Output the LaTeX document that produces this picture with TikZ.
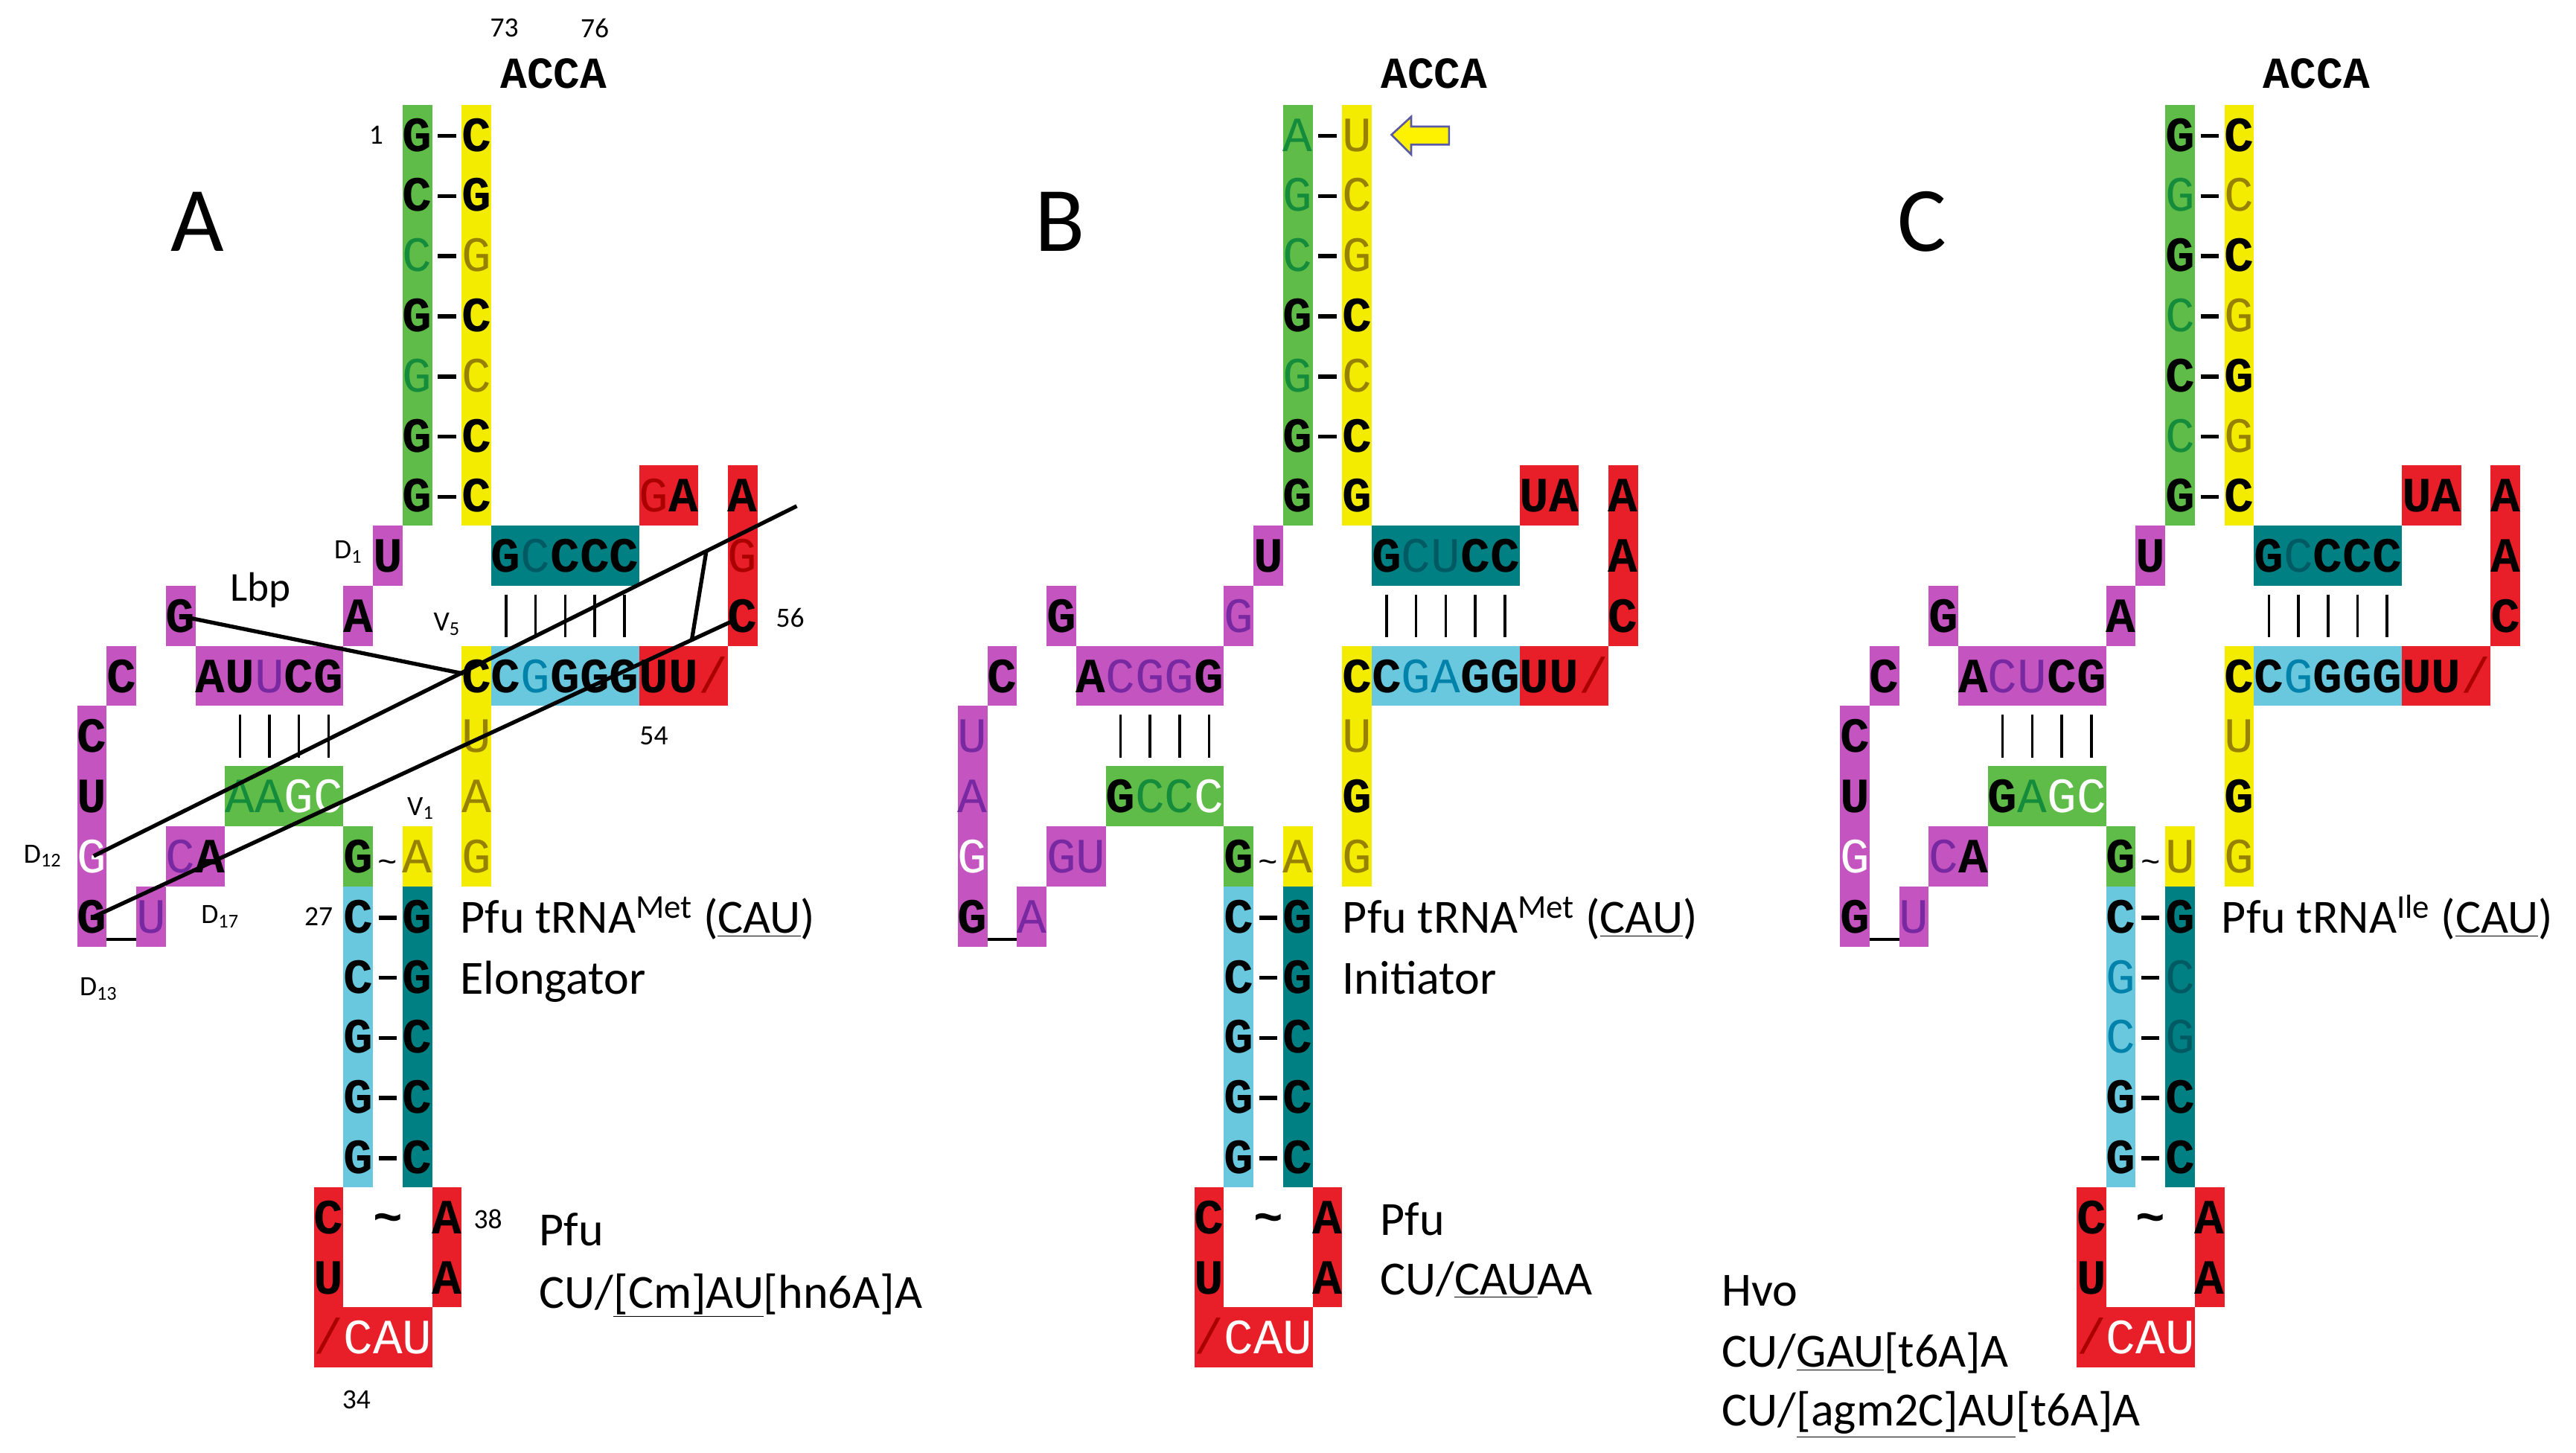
\documentclass[tikz,border=0pt]{standalone}
\usepackage{fontspec}
\setmainfont{Carlito}
\newfontfamily\mono{Liberation Mono}
\definecolor{cgreen}{RGB}{96,188,72}
\definecolor{cyell}{RGB}{243,236,0}
\definecolor{cmag}{RGB}{196,84,192}
\definecolor{cteal}{RGB}{0,128,130}
\definecolor{ccyan}{RGB}{106,200,222}
\definecolor{cred}{RGB}{232,30,40}
\definecolor{tgreen}{RGB}{20,140,60}
\definecolor{tyell}{RGB}{150,130,0}
\definecolor{tmag}{RGB}{120,40,160}
\definecolor{tcyan}{RGB}{0,130,170}
\definecolor{tteal}{RGB}{0,90,100}
\definecolor{tred}{RGB}{170,0,0}
\newcommand\dsh{\rule[8pt]{11pt}{2.5pt}}
\newcommand\sll{/}
\newcommand\tld{\textasciitilde}
% letters along a row, starting at column #1, row #2
\newcommand\seq[3]{\foreach \s/\t [count=\i from 0] in {#3} {\node[n\s] at ({254+18*(#1+\i)},{92+36.6*(#2)}) {\t};}}
% filled cell block: colour, cols #2..#3, rows #4..#5
\newcommand\bx[5]{\fill[#1] ({254+18*(#2)-9},{82+36.6*(#4)-18.3}) rectangle ({254+18*(#3)+9},{82+36.6*(#5)+18.3});}
\newcommand\bars[3]{\foreach \k in {#1,...,#2} {\draw[line width=1.6pt] ({254+18*\k},{82+36.6*(#3)-13}) -- ({254+18*\k},{82+36.6*(#3)+13});}}
\newcommand\blocks{%
  \bx{cgreen}{0}{0}{0}{6}\bx{cyell}{2}{2}{0}{6}
  \bx{cred}{8}{9}{6}{6}\bx{cred}{11}{11}{6}{8}\bx{cred}{8}{10}{9}{9}
  \bx{cteal}{3}{7}{7}{7}\bx{ccyan}{3}{7}{9}{9}
  \bx{cmag}{-1}{-1}{7}{7}\bx{cmag}{-2}{-2}{8}{8}\bx{cmag}{-8}{-8}{8}{8}
  \bx{cmag}{-7}{-3}{9}{9}\bx{cmag}{-10}{-10}{9}{9}\bx{cmag}{-11}{-11}{10}{13}
  \bx{cmag}{-8}{-7}{12}{12}\bx{cmag}{-9}{-9}{13}{13}
  \bx{cgreen}{-6}{-3}{11}{11}\bx{cgreen}{-2}{-2}{12}{12}\bx{cyell}{0}{0}{12}{12}
  \bx{cyell}{2}{2}{9}{12}
  \bx{ccyan}{-2}{-2}{13}{17}\bx{cteal}{0}{0}{13}{17}
  \bx{cred}{-3}{-3}{18}{20}\bx{cred}{-2}{0}{20}{20}\bx{cred}{1}{1}{18}{19}
  \bars{3}{7}{8}\bars{-6}{-3}{10}
  \draw[line width=1.6pt] ({254-18*10-9},{82+36.6*13+14}) -- ({254-18*10+9},{82+36.6*13+14});
  \node[acca] at (337,45) {ACCA};
  \seq{-3}{20}{r/\sll,w/C,w/A,w/U}
  \seq{-3}{18}{b/C}\seq{-1}{18}{b/\tld}\seq{1}{18}{b/A}
  \seq{-3}{19}{b/U}\seq{1}{19}{b/A}
}
\tikzset{
  nlt/.style={anchor=base,inner sep=0,font=\mono\fontsize{30}{30}\selectfont},
  nb/.style={nlt,font=\mono\bfseries\fontsize{30}{30}\selectfont,text=black},
  nw/.style={nlt,text=white},
  ng/.style={nlt,text=tgreen},
  ny/.style={nlt,text=tyell},
  nm/.style={nlt,text=tmag},
  nc/.style={nlt,text=tcyan},
  nt/.style={nlt,text=tteal},
  nr/.style={nlt,text=tred},
  ns/.style={nlt,font=\mono\fontsize{20}{20}\selectfont},
  acca/.style={inner sep=0,font=\mono\bfseries\fontsize{27}{27}\selectfont},
  lab/.style={anchor=base west,inner sep=0,font=\fontsize{29}{30}\selectfont},
  sm/.style={inner sep=0,font=\fontsize{17}{17}\selectfont},
  big/.style={inner sep=0,font=\fontsize{56}{56}\selectfont},
  lbp/.style={line width=2.4pt}
}
\begin{document}
\begin{tikzpicture}[x=1pt,y=-1pt]
\useasboundingbox (0,0) rectangle (1568,884);
% ---------------- panel A
\begin{scope}
  \blocks
  \node[big] at (120,135) {A};
  \node[sm] at (307,17) {73};\node[sm] at (362,17) {76};
  \node[sm] at (229,82) {1};
  \seq{0}{0}{b/G,b/\dsh,b/C}\seq{0}{1}{b/C,b/\dsh,b/G}\seq{0}{2}{g/C,b/\dsh,y/G}
  \seq{0}{3}{b/G,b/\dsh,b/C}\seq{0}{4}{g/G,b/\dsh,y/C}\seq{0}{5}{b/G,b/\dsh,b/C}
  \seq{0}{6}{b/G,b/\dsh,b/C}
  \seq{8}{6}{r/G,b/A}\seq{11}{6}{b/A}
  \seq{-1}{7}{b/U}\seq{3}{7}{b/G,t/C,b/C,b/C,b/C}\seq{11}{7}{r/G}
  \seq{-8}{8}{b/G}\seq{-2}{8}{b/A}\seq{11}{8}{b/C}
  \seq{-10}{9}{b/C}\seq{-7}{9}{b/A,b/U,m/U,b/C,b/G}
  \seq{2}{9}{b/C,b/C,c/G,b/G,b/G,b/G,b/U,b/U,r/\sll}
  \seq{-11}{10}{b/C}\seq{2}{10}{y/U}
  \seq{-11}{11}{b/U}\seq{-6}{11}{g/A,g/A,w/G,w/C}\seq{2}{11}{y/A}
  \seq{-11}{12}{w/G}\seq{-8}{12}{m/C,b/A}\seq{-2}{12}{b/G,s/\tld,y/A}\seq{2}{12}{y/G}
  \seq{-11}{13}{b/G}\seq{-9}{13}{m/U}
  \seq{-2}{13}{b/C,b/\dsh,b/G}\seq{-2}{14}{b/C,b/\dsh,b/G}\seq{-2}{15}{b/G,b/\dsh,b/C}
  \seq{-2}{16}{b/G,b/\dsh,b/C}\seq{-2}{17}{b/G,b/\dsh,b/C}
  \node[sm] at (212,336) {D\textsubscript{1}};
  \node[lab,font=\fontsize{25}{25}\selectfont] at (140,366) {Lbp};
  \node[sm] at (272,380) {V\textsubscript{5}};
  \node[sm] at (481,376) {56};\node[sm] at (398,448) {54};
  \node[sm] at (26,521) {D\textsubscript{12}};\node[sm] at (134,558) {D\textsubscript{17}};
  \node[sm] at (60,602) {D\textsubscript{13}};\node[sm] at (194,558) {27};
  \node[sm] at (256,492) {V\textsubscript{1}};
  \node[sm] at (297,742) {38};\node[sm] at (217,852) {34};
  \node[lab] at (280,568) {Pfu tRNA\textsuperscript{Met} (\underline{CAU})};
  \node[lab] at (280,605) {Elongator};
  \node[lab] at (328,758) {Pfu};
  \node[lab] at (328,796) {CU/\underline{[Cm]AU}[hn6A]A};
  % Lbp connectors
  \coordinate (g8) at (110,375);\coordinate (c9) at (282,410);
  \coordinate (d12) at (57,521);\coordinate (e2) at (485,308);
  \coordinate (d13) at (57,558);\coordinate (c56) at (448,377);
  \coordinate (j1) at (430,335);\coordinate (j2) at (421,390);
  \draw[lbp] (g8) -- (c9);\draw[lbp] (d12) -- (e2);
  \draw[lbp] (d13) -- (c56);\draw[lbp] (j1) -- (j2);
\end{scope}
% ---------------- panel B
\begin{scope}[xshift=536pt]
  \blocks
  \node[big] at (109,135) {B};
  \seq{0}{0}{g/A,b/\dsh,y/U}\seq{0}{1}{g/G,b/\dsh,y/C}\seq{0}{2}{g/C,b/\dsh,y/G}
  \seq{0}{3}{b/G,b/\dsh,b/C}\seq{0}{4}{g/G,b/\dsh,y/C}\seq{0}{5}{b/G,b/\dsh,b/C}
  \seq{0}{6}{b/G}\seq{2}{6}{b/G}
  \draw[fill=yellow,draw=gray!70!blue,line width=1.2pt] (311,82) -- (323,71) -- (323,77) -- (346,77) -- (346,88) -- (323,88) -- (323,94) -- cycle;
  \seq{8}{6}{b/U,b/A}\seq{11}{6}{b/A}
  \seq{-1}{7}{b/U}\seq{3}{7}{b/G,t/C,t/U,b/C,b/C}\seq{11}{7}{b/A}
  \seq{-8}{8}{b/G}\seq{-2}{8}{m/G}\seq{11}{8}{b/C}
  \seq{-10}{9}{b/C}\seq{-7}{9}{b/A,m/C,m/G,m/G,b/G}
  \seq{2}{9}{b/C,b/C,c/G,c/A,b/G,b/G,b/U,b/U,r/\sll}
  \seq{-11}{10}{m/U}\seq{2}{10}{y/U}
  \seq{-11}{11}{m/A}\seq{-6}{11}{b/G,g/C,g/C,w/C}\seq{2}{11}{b/G}
  \seq{-11}{12}{w/G}\seq{-8}{12}{m/G,m/U}\seq{-2}{12}{b/G,s/\tld,y/A}\seq{2}{12}{y/G}
  \seq{-11}{13}{b/G}\seq{-9}{13}{m/A}
  \seq{-2}{13}{b/C,b/\dsh,b/G}\seq{-2}{14}{b/C,b/\dsh,b/G}\seq{-2}{15}{b/G,b/\dsh,b/C}
  \seq{-2}{16}{b/G,b/\dsh,b/C}\seq{-2}{17}{b/G,b/\dsh,b/C}
  \node[lab] at (281,568) {Pfu tRNA\textsuperscript{Met} (\underline{CAU})};
  \node[lab] at (281,605) {Initiator};
  \node[lab] at (304,752) {Pfu};
  \node[lab] at (304,788) {CU/\underline{CAU}AA};
\end{scope}
% ---------------- panel C
\begin{scope}[xshift=1073pt]
  \blocks
  \node[big] at (97,135) {C};
  \seq{0}{0}{b/G,b/\dsh,b/C}\seq{0}{1}{g/G,b/\dsh,y/C}\seq{0}{2}{b/G,b/\dsh,b/C}
  \seq{0}{3}{g/C,b/\dsh,y/G}\seq{0}{4}{b/C,b/\dsh,b/G}\seq{0}{5}{g/C,b/\dsh,y/G}
  \seq{0}{6}{b/G,b/\dsh,b/C}
  \seq{8}{6}{b/U,b/A}\seq{11}{6}{b/A}
  \seq{-1}{7}{b/U}\seq{3}{7}{b/G,t/C,b/C,b/C,b/C}\seq{11}{7}{b/A}
  \seq{-8}{8}{b/G}\seq{-2}{8}{b/A}\seq{11}{8}{b/C}
  \seq{-10}{9}{b/C}\seq{-7}{9}{b/A,m/C,m/U,b/C,b/G}
  \seq{2}{9}{b/C,b/C,c/G,b/G,b/G,b/G,b/U,b/U,r/\sll}
  \seq{-11}{10}{b/C}\seq{2}{10}{y/U}
  \seq{-11}{11}{b/U}\seq{-6}{11}{b/G,g/A,w/G,w/C}\seq{2}{11}{b/G}
  \seq{-11}{12}{w/G}\seq{-8}{12}{m/C,b/A}\seq{-2}{12}{b/G,s/\tld,y/U}\seq{2}{12}{y/G}
  \seq{-11}{13}{b/G}\seq{-9}{13}{m/U}
  \seq{-2}{13}{b/C,b/\dsh,b/G}\seq{-2}{14}{c/G,b/\dsh,t/C}\seq{-2}{15}{c/C,b/\dsh,t/G}
  \seq{-2}{16}{b/G,b/\dsh,b/C}\seq{-2}{17}{b/G,b/\dsh,b/C}
  \node[lab] at (279,568) {Pfu tRNA\textsuperscript{Ile} (\underline{CAU})};
\end{scope}
\node[lab] at (1048,795) {Hvo};
\node[lab] at (1048,832) {CU/\underline{GAU}[t6A]A};
\node[lab] at (1048,868) {CU/\underline{[agm2C]AU}[t6A]A};
\end{tikzpicture}
\end{document}
